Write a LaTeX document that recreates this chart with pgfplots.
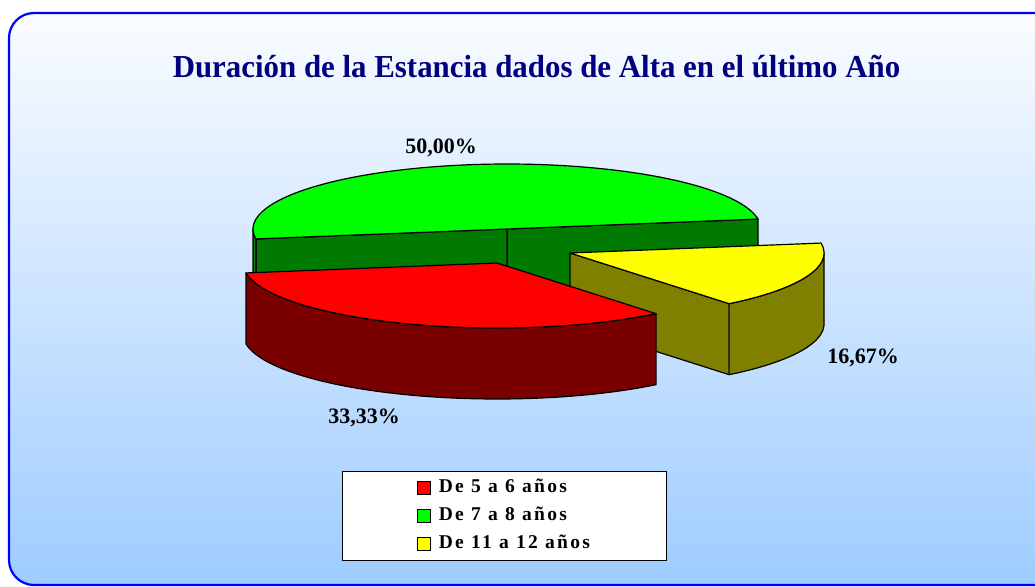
\documentclass[border=0pt]{standalone}
\usepackage{pgfplots}
\pgfplotsset{compat=1.18}
\usepackage{fontspec}
\setmainfont{Liberation Serif}
\newfontfamily\legfont[LetterSpace=12]{Liberation Serif}
\definecolor{navyT}{RGB}{0,0,128}
\definecolor{gtop}{RGB}{0,255,0}
\definecolor{gside}{RGB}{0,122,0}
\definecolor{rtop}{RGB}{255,0,0}
\definecolor{rside}{RGB}{122,0,0}
\definecolor{ytop}{RGB}{255,255,0}
\definecolor{yside}{RGB}{128,128,0}
\definecolor{bgbot}{RGB}{158,204,255}
\definecolor{bgtop}{RGB}{250,252,255}
\definecolor{frameblue}{RGB}{0,0,255}

% data (percent of discharges)
\def\valA{33.33} % De 5 a 6 anos
\def\valB{50.00} % De 7 a 8 anos
\def\valC{16.67} % De 11 a 12 anos

\pgfmathsetmacro\ra{254}
\pgfmathsetmacro\rb{65}
\pgfmathsetmacro\hh{71}
\pgfmathsetmacro\gS{8.8}
\pgfmathsetmacro\gE{\gS+3.6*\valB}
\pgfmathsetmacro\rS{\gE}
\pgfmathsetmacro\rE{\rS+3.6*\valA}
\pgfmathsetmacro\yS{\rE}
\pgfmathsetmacro\yE{\yS+3.6*\valC}

\newcommand\slicetop[5]{%
 \addplot[forget plot, fill=#5, draw=black, line width=1.2pt, line join=round, domain=#3:#4, samples=90]
  ({#1+\ra*cos(x)},{#2-\rb*sin(x)}) -- (axis cs:#1,#2) -- cycle;}
\newcommand\slicewall[5]{%
 \addplot[forget plot, fill=#5, draw=black, line width=1.2pt, line join=round, samples at={0,2,...,210}]
 ({#1+\ra*cos((x<100.5)*(#3+(#4-#3)*x/100)+(x>100.5)*(x<110.5)*(#4)+(x>110.5)*(#4-(#4-#3)*(x-110)/100))},
  {#2-\rb*sin((x<100.5)*(#3+(#4-#3)*x/100)+(x>100.5)*(x<110.5)*(#4)+(x>110.5)*(#4-(#4-#3)*(x-110)/100))+(x>100.5)*(x<110.5)*\hh*(x-100)/10+(x>110.5)*\hh}) -- cycle;}
\newcommand\sliceface[4]{%
 \addplot[forget plot, fill=#4, draw=black, line width=1.2pt, line join=round, samples at={0,1,2,3}]
 ({#1+(x>0.5)*(x<2.5)*\ra*cos(#3)},{#2-(x>0.5)*(x<2.5)*\rb*sin(#3)+(x>1.5)*\hh}) -- cycle;}

\begin{document}
\begin{tikzpicture}
\begin{axis}[
  scale only axis, width=1035bp, height=586bp,
  xmin=0, xmax=1035, ymin=0, ymax=586, y dir=reverse,
  hide axis, clip=true,
  legend style={at={(0.487,0.1203)}, anchor=center, draw=black, line width=0.8pt,
    fill=white, font={\legfont\bfseries\fontsize{19.5bp}{22bp}\selectfont},
    inner xsep=75bp, inner ysep=7bp, row sep=9bp,
    nodes={inner sep=1bp, text height=13bp, text depth=4bp},
    /tikz/every odd column/.append style={column sep=7bp}},
  legend cell align=left,
  legend image code/.code={\draw[#1, line width=0.8pt] (0bp,-6.5bp) rectangle (13bp,6.5bp);},
]
% background
\fill[white] (0,0) rectangle (1035,586);
\shade[top color=bgtop, bottom color=bgbot]
  (1035,13) -- (34,13) .. controls (20.2,13) and (9,24.2) .. (9,38) -- (9,560)
  .. controls (9,573.8) and (20.2,585) .. (34,585) -- (1035,585) -- cycle;
\draw[frameblue, line width=2.2pt]
  (1035,13) -- (34,13) .. controls (20.2,13) and (9,24.2) .. (9,38) -- (9,560)
  .. controls (9,573.8) and (20.2,585) .. (34,585) -- (1035,585);

% green slice (back)
\sliceface{507}{229}{\gS}{gside}
\sliceface{507}{229}{\gE}{gside}
\slicewall{507}{229}{180}{\gE}{gside}
\slicetop{507}{229}{\gS}{\gE}{gtop}
% yellow slice
\sliceface{570}{253}{\yS}{yside}
\slicewall{570}{253}{\yS}{360}{yside}
\slicetop{570}{253}{\yS}{\yE}{ytop}
% red slice (front)
\slicewall{497}{263}{\rS}{\rE}{rside}
\slicetop{497}{263}{\rS}{\rE}{rtop}

% labels
\node[anchor=base, text=navyT, font={\bfseries\fontsize{32bp}{36bp}\selectfont}] at (axis cs:536.5,78)
  {\scalebox{0.965}[1]{Duración de la Estancia dados de Alta en el último Año}};
\node[anchor=base, font={\bfseries\fontsize{22bp}{26bp}\selectfont}] at (axis cs:441,153) {50,00\%};
\node[anchor=base, font={\bfseries\fontsize{22bp}{26bp}\selectfont}] at (axis cs:364,423) {33,33\%};
\node[anchor=base, font={\bfseries\fontsize{22bp}{26bp}\selectfont}] at (axis cs:863,363) {16,67\%};

\addlegendimage{fill=rtop, draw=black}
\addlegendentry{De 5 a 6 años}
\addlegendimage{fill=gtop, draw=black}
\addlegendentry{De 7 a 8 años}
\addlegendimage{fill=ytop, draw=black}
\addlegendentry{De 11 a 12 años}
\end{axis}
\end{tikzpicture}
\end{document}
